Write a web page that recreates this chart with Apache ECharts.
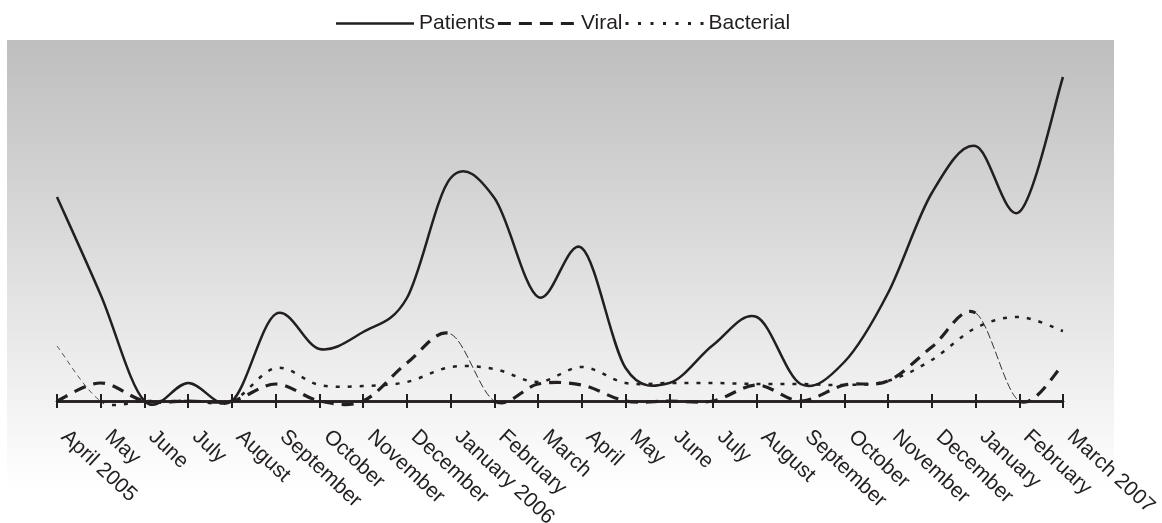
<!DOCTYPE html>
<html>
<head>
<meta charset="utf-8">
<script src="https://cdn.jsdelivr.net/npm/echarts@6/dist/echarts.min.js"></script>
<style>
html,body{margin:0;padding:0;background:#fff;}
#chart{width:1162px;height:523px;}
</style>
</head>
<body>
<div id="chart"></div>
<script>
const categories = ['April 2005','May','June','July','August','September','October','November','December','January 2006','February','March','April','May','June','July','August','September','October','November','December','January','February','March 2007'];
const patients  = [204, 106, 0, 18, 0, 87, 52, 69, 103, 223, 203, 104, 153, 33, 18, 56, 84, 17, 39, 108, 208, 255, 189, 324];
const viral     = [0, 18, 0, 0, 0, 17, 0, 0, 38, 67, 0, 17, 16, 0, 0, 0, 16, 0, 16, 20, 54, 88, 0, 36];
const bacterial = [55, 0, 0, 0, 0, 33, 16, 15, 19, 34, 32, 19, 34, 18, 18, 18, 17, 17, 16, 20, 41, 73, 84, 70];

const INK = '#231f20';
const FONT = "'Liberation Sans', Arial, Helvetica, sans-serif";

// style per series: main stroke and the thin (hairline) segments seen in the original
const styles = {
  Patients:  {main: {lineWidth: 2.5, lineDash: null}, thin: null, thinSegs: []},
  Viral:     {main: {lineWidth: 3.2, lineDash: [12, 8]}, thin: {lineWidth: 1, lineDash: [8, 3], stroke: '#333'}, thinSegs: [9, 21]},
  Bacterial: {main: {lineWidth: 2.5, lineDash: [4, 8]}, thin: {lineWidth: 1, lineDash: [5, 4], stroke: '#555'}, thinSegs: [0]}
};

function curveSeries(name, values) {
  const st = styles[name];
  return {
    name: name, type: 'custom', coordinateSystem: 'cartesian2d',
    data: values.map((v, i) => [i, v]),
    encode: {x: 0, y: 1},
    itemStyle: {color: INK},
    renderItem: function (params, api) {
      if (params.dataIndex !== 0) return null;
      const pts = values.map((v, i) => api.coord([i, v]));
      const n = pts.length;
      const runs = [];
      let run = null;
      for (let i = 0; i < n - 1; i++) {
        const isThin = st.thinSegs.indexOf(i) >= 0;
        const p0 = pts[Math.max(i - 1, 0)], p1 = pts[i], p2 = pts[i + 1], p3 = pts[Math.min(i + 2, n - 1)];
        const c1x = p1[0] + (p2[0] - p0[0]) / 6, c1y = p1[1] + (p2[1] - p0[1]) / 6;
        const c2x = p2[0] - (p3[0] - p1[0]) / 6, c2y = p2[1] - (p3[1] - p1[1]) / 6;
        if (!run || run.thin !== isThin) {
          run = {thin: isThin, d: 'M' + p1[0] + ' ' + p1[1]};
          runs.push(run);
        }
        run.d += ' C' + c1x + ' ' + c1y + ' ' + c2x + ' ' + c2y + ' ' + p2[0] + ' ' + p2[1];
      }
      return {
        type: 'group',
        children: runs.map(r => {
          const s = r.thin ? st.thin : st.main;
          return {
            type: 'path',
            shape: {pathData: r.d},
            style: {fill: 'none', stroke: s.stroke || INK, lineWidth: s.lineWidth, lineDash: s.lineDash, lineCap: 'butt', lineJoin: 'round'}
          };
        })
      };
    }
  };
}

const chart = echarts.init(document.getElementById('chart'), null, {renderer: 'canvas'});
chart.setOption({
  animation: false,
  backgroundColor: '#ffffff',
  graphic: [{
    type: 'rect', z: -10, silent: true,
    shape: {x: 7, y: 40, width: 1107, height: 450},
    style: {fill: new echarts.graphic.LinearGradient(0, 0, 0, 1, [
      {offset: 0, color: '#bebebe'},
      {offset: 1, color: '#ffffff'}
    ])}
  }],
  legend: {
    left: 331, top: 8,
    itemWidth: 78, itemHeight: 3, itemGap: 3,
    textStyle: {color: INK, fontFamily: FONT, fontSize: 21},
    data: [
      {name: 'Patients', icon: 'path://M0,0H78V2.5H0Z'},
      {name: 'Viral', icon: 'path://M0,0H13V3H0Z M21,0H34V3H21Z M42,0H55V3H42Z M63,0H76V3H63Z M77.9,2.9H78V3H77.9Z'},
      {name: 'Bacterial', icon: 'path://M0,0H3V3H0Z M12.5,0H15.5V3H12.5Z M25,0H28V3H25Z M37.5,0H40.5V3H37.5Z M50,0H53V3H50Z M62.5,0H65.5V3H62.5Z M75,0H78V3H75Z'}
    ]
  },
  grid: {left: 57, right: 99, top: 61, bottom: 110, containLabel: false, outerBoundsMode: 'none'},
  xAxis: [{
    type: 'category', data: categories, boundaryGap: false, position: 'bottom',
    axisLine: {onZero: true, onZeroAxisIndex: 0, lineStyle: {color: INK, width: 2.5}},
    axisTick: {show: true, interval: 0, length: 7, lineStyle: {color: INK, width: 2}},
    axisLabel: {interval: 0, rotate: -43, margin: 14, padding: [0, 0, 0, 10],
      color: INK, fontFamily: FONT, fontSize: 21},
    splitLine: {show: false}
  }, {
    type: 'category', data: categories, boundaryGap: false, position: 'top',
    axisLine: {onZero: true, onZeroAxisIndex: 0, show: true, lineStyle: {color: INK, width: 2.5}},
    axisTick: {show: true, interval: 0, length: 7, lineStyle: {color: INK, width: 2}},
    axisLabel: {show: false},
    splitLine: {show: false}
  }],
  yAxis: {
    type: 'value', min: -12, max: 340, show: false,
    splitLine: {show: false}
  },
  series: [
    curveSeries('Patients', patients),
    curveSeries('Viral', viral),
    curveSeries('Bacterial', bacterial)
  ]
});
</script>
</body>
</html>
